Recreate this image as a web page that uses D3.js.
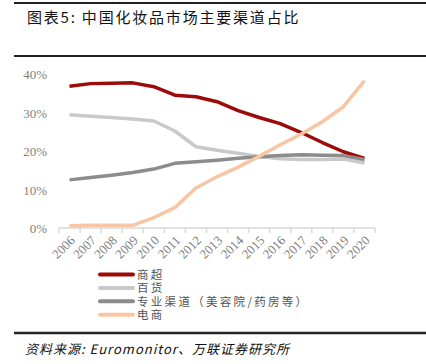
<!DOCTYPE html>
<html>
<head>
<meta charset="utf-8">
<script src="https://cdn.jsdelivr.net/npm/d3@7"></script>
<style>
  body { margin: 0; background: #fff; }
  svg { display: block; }
</style>
</head>
<body>
<div id="chart"></div>
<script>
const years = ['2006', '2007', '2008', '2009', '2010', '2011', '2012', '2013',
  '2014', '2015', '2016', '2017', '2018', '2019', '2020'];
const supermarket = [36.8, 37.5, 37.6, 37.7, 36.7, 34.5, 34.1, 32.8, 30.5, 28.7, 27.1, 24.8, 22.2, 19.8, 18.1];
const department = [29.4, 29.0, 28.7, 28.3, 27.8, 25.2, 21.1, 20.2, 19.4, 18.6, 18.0, 17.8, 17.8, 17.9, 16.9];
const specialty = [12.5, 13.1, 13.7, 14.4, 15.3, 16.8, 17.2, 17.6, 18.1, 18.5, 18.8, 19.0, 18.9, 18.8, 17.8];
const ecommerce = [0.6, 0.7, 0.7, 0.7, 2.7, 5.3, 10.4, 13.3, 15.8, 18.6, 21.6, 24.4, 27.6, 31.5, 38.2];
const yTicks = [0, 10, 20, 30, 40];

const series = [
  {name: '商超', values: supermarket, color: '#9c0a0a'},
  {name: '百货', values: department, color: '#c9c9c9'},
  {name: '专业渠道（美容院/药房等）', values: specialty, color: '#8c8c8c'},
  {name: '电商', values: ecommerce, color: '#f7c6a4'},
];

const width = 426;
const height = 364;
const svg = d3.select('#chart').append('svg')
    .attr('width', width)
    .attr('height', height);

const cjk = '"Noto Sans CJK SC", sans-serif';
const serif = '"Liberation Serif", "DejaVu Serif", serif';

// frame lines
[[3, 2], [56, 2], [333, 2.5]].forEach(([y, w]) => {
  svg.append('line')
      .attr('x1', 14).attr('x2', width)
      .attr('y1', y).attr('y2', y)
      .attr('stroke', '#222').attr('stroke-width', w);
});

svg.append('text')
    .attr('x', 27).attr('y', 23)
    .attr('font-family', cjk)
    .attr('font-size', 15)
    .attr('letter-spacing', 1.8)
    .attr('fill', '#111')
    .text('图表5:  中国化妆品市场主要渠道占比');

svg.append('text')
    .attr('x', 25).attr('y', 354)
    .attr('font-family', cjk)
    .attr('font-size', 13)
    .attr('font-style', 'italic')
    .attr('letter-spacing', 1)
    .attr('fill', '#111')
    .text('资料来源: Euromonitor、万联证券研究所');

const x = d3.scaleBand().domain(years).range([59, 375]);
const y = d3.scaleLinear().domain([0, 40]).range([228, 74]);

// y labels
svg.append('g')
    .selectAll('text')
    .data(yTicks)
    .join('text')
    .attr('x', 47)
    .attr('y', (d) => y(d) + 5)
    .attr('text-anchor', 'end')
    .attr('font-family', serif)
    .attr('font-size', 13)
    .attr('fill', '#7f7f7f')
    .text((d) => d + '%');

// x axis
const xAxis = svg.append('g').attr('transform', `translate(0,${y(0)})`);
xAxis.append('line')
    .attr('x1', 59).attr('x2', 375)
    .attr('stroke', '#d9d9d9').attr('stroke-width', 1.5);
xAxis.selectAll('.tk')
    .data(years.concat(['end']))
    .join('line')
    .attr('class', 'tk')
    .attr('x1', (d, i) => 59 + i * x.step())
    .attr('x2', (d, i) => 59 + i * x.step())
    .attr('y1', 0).attr('y2', 5)
    .attr('stroke', '#d9d9d9').attr('stroke-width', 1.5);
xAxis.selectAll('text')
    .data(years)
    .join('text')
    .attr('transform', (d) => `translate(${x(d) + x.bandwidth() / 2 + 3},10) rotate(-45)`)
    .attr('text-anchor', 'end')
    .attr('dy', '0.35em')
    .attr('font-family', serif)
    .attr('font-size', 13)
    .attr('fill', '#7f7f7f')
    .text((d) => d);

const line = d3.line()
    .x((d, i) => x(years[i]) + x.bandwidth() / 2)
    .y((d) => y(d));

svg.append('g')
    .selectAll('path')
    .data(series)
    .join('path')
    .attr('d', (d) => line(d.values))
    .attr('fill', 'none')
    .attr('stroke', (d) => d.color)
    .attr('stroke-width', 3.5)
    .attr('stroke-linejoin', 'round');

// legend
const legend = svg.append('g')
    .selectAll('g')
    .data(series)
    .join('g')
    .attr('transform', (d, i) => `translate(100,${274.5 + i * 13.4})`);
legend.append('line')
    .attr('x1', 0).attr('x2', 33)
    .attr('stroke', (d) => d.color)
    .attr('stroke-width', 4)
    .attr('stroke-linecap', 'round');
legend.append('text')
    .attr('x', 37)
    .attr('y', 4.5)
    .attr('font-family', cjk)
    .attr('font-size', 11.5)
    .attr('letter-spacing', 2.3)
    .attr('fill', '#555')
    .text((d) => d.name);
</script>
</body>
</html>
